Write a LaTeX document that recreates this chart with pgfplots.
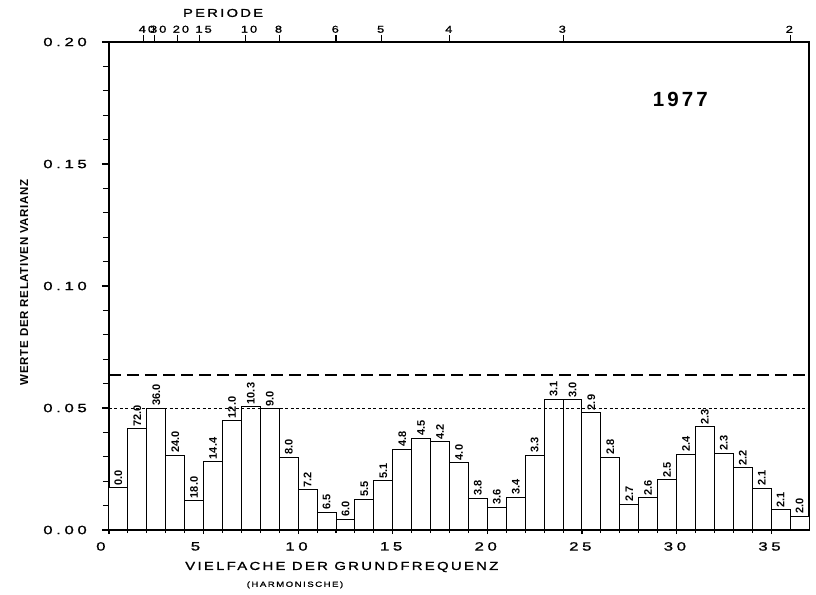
\documentclass[border=0pt]{standalone}
\usepackage{fontspec}
\usepackage{pgfplots}
\usepackage{pgfplotstable}
\pgfplotsset{compat=1.18}
\newfontfamily\pf[FakeStretch=1.28,LetterSpace=20,FakeBold=1.2]{Liberation Sans}
\newfontfamily\tk[FakeStretch=1.4,LetterSpace=30,FakeBold=1.2]{Liberation Sans}
\newfontfamily\bl{Liberation Sans}
\newfontfamily\yl[LetterSpace=6]{Liberation Sans}
\newfontfamily\tf[LetterSpace=15]{Liberation Sans}

\pgfplotstableread{
x y label
0.5 0.0173 0.0
1.5 0.0414 72.0
2.5 0.0499 36.0
3.5 0.0307 24.0
4.5 0.0120 18.0
5.5 0.0280 14.4
6.5 0.0448 12.0
7.5 0.0505 10.3
8.5 0.0496 9.0
9.5 0.0298 8.0
10.5 0.0164 7.2
11.5 0.0072 6.5
12.5 0.0044 6.0
13.5 0.0127 5.5
14.5 0.0202 5.1
15.5 0.0331 4.8
16.5 0.0376 4.5
17.5 0.0361 4.2
18.5 0.0276 4.0
19.5 0.0131 3.8
20.5 0.0093 3.6
21.5 0.0135 3.4
22.5 0.0307 3.3
23.5 0.0536 3.1
24.5 0.0533 3.0
25.5 0.0481 2.9
26.5 0.0298 2.8
27.5 0.0105 2.7
28.5 0.0132 2.6
29.5 0.0205 2.5
30.5 0.0310 2.4
31.5 0.0423 2.3
32.5 0.0314 2.3
33.5 0.0255 2.2
34.5 0.0171 2.1
35.5 0.0082 2.1
36.5 0.0057 2.0
}\bars

\begin{document}
\begin{tikzpicture}
\useasboundingbox (-109pt,-64pt) rectangle (707pt,530pt);
\begin{axis}[
  scale only axis, width=700pt, height=488pt,
  at={(0,0)}, anchor=south west,
  clip=false,
  xmin=0, xmax=37, ymin=0, ymax=0.2,
  xtick={0,5,...,35}, minor x tick num=4,
  ytick={0,0.05,0.1,0.15,0.2}, minor y tick num=4,
  xtick pos=left, ytick pos=left,
  tick align=center,
  major tick length=8pt, minor tick length=6pt,
  every y tick/.append style={xshift=-3pt},
  axis line style={line width=1.2pt},
  tick style={line width=1.1pt, black},
  ticklabel style={font=\tk\fontsize{12}{12}\selectfont, inner sep=0pt},
  xticklabel style={anchor=north west, xshift=-13pt, yshift=-8pt},
  yticklabel style={anchor=east, xshift=-18pt,
    /pgf/number format/.cd, fixed, fixed zerofill, precision=2, assume math mode=true},
  xticklabel style={/pgf/number format/assume math mode=true},
  scaled y ticks=false,
]
\addplot[ybar, bar width=1, fill=white, draw=black, line width=1pt,
  point meta=explicit symbolic, nodes near coords,
  nodes near coords style={rotate=90, anchor=west, inner sep=2pt,
    font=\bl\bfseries\fontsize{11}{11}\selectfont}]
  table[x=x, y=y, meta=label] {\bars};
\addplot[black, line width=1.2pt, dash pattern=on 12pt off 6pt] coordinates {(0,0.0635) (37,0.0635)};
\addplot[black, line width=1pt, dash pattern=on 3pt off 2.5pt] coordinates {(0,0.0497) (37,0.0497)};
\node[font=\tf\bfseries\fontsize{20.5}{22}\selectfont] at (axis cs:30.2,0.1766) {1977};
\node[font=\pf\fontsize{11.5}{12}\selectfont] at (axis cs:6.03,0.2119) {PERIODE};
\node[font=\pf\fontsize{11.6}{12}\selectfont, anchor=west, inner sep=0pt] at (axis cs:4.02,-0.01516) {VIELFACHE DER GRUNDFREQUENZ};
\node[font=\pf\fontsize{7.5}{8}\selectfont] at (axis cs:9.83,-0.0225) {(HARMONISCHE)};
\node[font=\yl\bfseries\fontsize{11.5}{12}\selectfont, rotate=90] at (axis cs:-4.49,0.1016) {WERTE DER RELATIVEN VARIANZ};
\end{axis}
\begin{axis}[
  scale only axis, width=700pt, height=488pt,
  at={(0,0)}, anchor=south west,
  xmin=0, xmax=37, ymin=0, ymax=1,
  axis x line*=top, axis y line=none,
  xtick={1.8,2.4,3.6,4.8,7.2,9,12,14.4,18,24,36},
  xticklabels={40,30,20,15,10,8,6,5,4,3,2},
  tick align=outside, major tick length=7pt,
  axis line style={line width=1.2pt, -},
  tick style={line width=1.1pt, black},
  xticklabel style={font=\pf\fontsize{10}{10}\selectfont, inner sep=0pt, anchor=south west, xshift=-4.5pt, yshift=2pt},
]
\addplot[draw=none] coordinates {(0,0)};
\end{axis}
\end{tikzpicture}
\end{document}
